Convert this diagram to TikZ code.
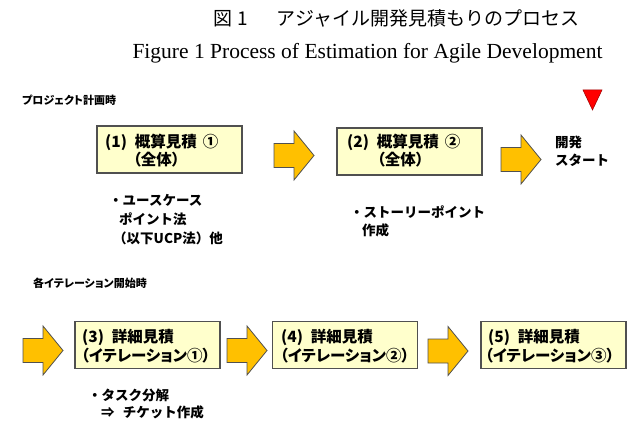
\documentclass[tikz,border=0pt]{standalone}
\usepackage{fontspec}
\setmainfont{Liberation Serif}
\newfontfamily\jp{Noto Sans CJK JP}[RawFeature=+palt]
\newfontfamily\jpt{Noto Sans CJK JP}
\usetikzlibrary{calc}
\definecolor{boxfill}{HTML}{FFFFCC}
\definecolor{boxline}{HTML}{505050}
\definecolor{arrowfill}{HTML}{FFC000}
\tikzset{
  stepbox/.style={draw=boxline, line width=1.3pt, fill=boxfill, rectangle,
    minimum width=145pt, minimum height=47pt, inner sep=0pt},
  boxtext/.style={anchor=west, inner sep=0pt, font=\jp\bfseries\fontsize{15.5}{17}\selectfont},
  note/.style={anchor=west, inner sep=0pt, font=\jpt\bfseries\fontsize{13.5}{15}\selectfont},
  phase/.style={anchor=west, inner sep=0pt, font=\jp\bfseries\fontsize{11}{13}\selectfont},
  blockarrow/.style={draw=boxline, line width=0.8pt, fill=arrowfill, line join=miter},
}
% block arrow: left end of the shaft at x=#1, centre line at y=#2
\newcommand\blockarrow[2]{%
  \filldraw[blockarrow] ({#1},{#2-12}) -- ({#1+20},{#2-12}) -- ({#1+20},{#2-24.5})
    -- ({#1+40},{#2}) -- ({#1+20},{#2+24.5}) -- ({#1+20},{#2+12}) -- ({#1},{#2+12}) -- cycle;}
\begin{document}
\begin{tikzpicture}[x=1pt,y=-1pt]
\useasboundingbox (0,0) rectangle (635,425);

% titles
\node[inner sep=0pt, anchor=west, font=\jpt\fontsize{19}{22}\selectfont] (title) at (213,18) {図\hspace{0.3em}1\hspace{1.5em}アジャイル開発見積もりのプロセス};
\node[inner sep=0pt, font=\fontsize{21.5}{24}\selectfont] (subtitle) at (367.5,53) {Figure 1 Process of Estimation for Agile Development};

% project planning phase
\node[phase] (plan) at (22,100) {プロジェクト計画時};
\filldraw[fill=red, draw=red!60!black, line width=0.5pt] (583,90) -- (602,90) -- (592.5,110) -- cycle;

\node[stepbox] (b1) at (169.5,149.5) {};
\node[boxtext] (b1a) at (105,142) {(1)\hspace{0.5em}概算見積\hspace{0.4em}①};
\node[boxtext] (b1b) at (133,160) {（全体）};
\blockarrow{274}{155.5}

\node[stepbox] (b2) at (409.5,151.5) {};
\node[boxtext] (b2a) at (347,142) {(2)\hspace{0.5em}概算見積\hspace{0.4em}②};
\node[boxtext] (b2b) at (377,160) {（全体）};
\blockarrow{501}{159.5}

\node[note] (start1) at (555,142) {開発};
\node[note] (start2) at (555,160) {スタート};

\node[note] (n1a) at (109,200) {・ユースケース};
\node[note] (n1b) at (119,219) {ポイント法};
\node[note] (n1c) at (113,238) {（以下UCP法）他};

\node[note] (n2a) at (350,212) {・ストーリーポイント};
\node[note] (n2b) at (362,230) {作成};

% iteration phase
\node[phase] (iter) at (33,283) {各イテレーション開始時};

\blockarrow{23}{350.5}
\node[stepbox] (b3) at (147.5,345) {};
\node[boxtext] (b3a) at (82,337) {(3)\hspace{0.5em}詳細見積};
\node[boxtext] (b3b) at (81,356) {（イテレーション①）};

\blockarrow{227}{350.5}
\node[stepbox] (b4) at (345,345) {};
\node[boxtext] (b4a) at (281,337) {(4)\hspace{0.5em}詳細見積};
\node[boxtext] (b4b) at (280,356) {（イテレーション②）};

\blockarrow{428}{351}
\node[stepbox] (b5) at (553.5,345) {};
\node[boxtext] (b5a) at (488,337) {(5)\hspace{0.5em}詳細見積};
\node[boxtext] (b5b) at (485,356) {（イテレーション③）};

\node[note] (n3a) at (88,395) {・タスク分解};
\node[note] (n3b) at (101,412) {⇒\hspace{0.6em}チケット作成};
\end{tikzpicture}
\end{document}
